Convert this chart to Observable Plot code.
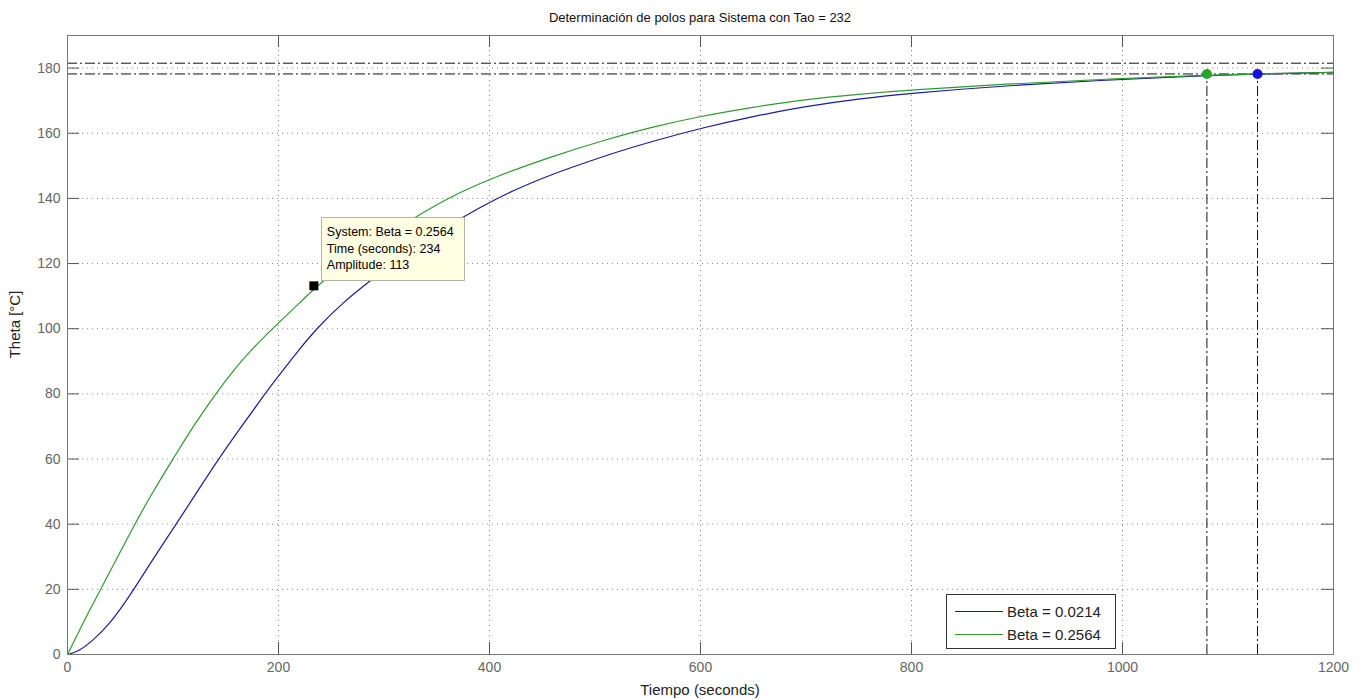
<!DOCTYPE html>
<html><head><meta charset="utf-8">
<script src="https://cdn.jsdelivr.net/npm/d3@7"></script>
<script src="https://cdn.jsdelivr.net/npm/@observablehq/plot@0.6"></script>
<style>body{margin:0;background:#fff;} #chart svg{display:block;}</style>
</head><body><div id="chart"></div>
<script>
const titleText = "Determinación de polos para Sistema con Tao = 232";
const xLabel = "Tiempo (seconds)";
const yLabel = "Theta [°C]";
const xTicks = [0, 200, 400, 600, 800, 1000, 1200];
const yTicks = [0, 20, 40, 60, 80, 100, 120, 140, 160, 180];
const seriesNames = ["Beta = 0.0214", "Beta = 0.2564"];

const blueT = [0, 10, 25, 40, 51, 63, 80, 103, 120, 143, 165, 187, 200, 218, 236, 260, 290, 320, 345, 373, 407, 430, 460, 491, 520, 556, 602, 650, 698, 750, 800, 889, 984, 1050, 1128, 1200];
const blueV = [0, 0.8, 4.5, 9.5, 14.3, 20, 28.8, 40, 48.5, 60, 70, 80, 85.5, 93, 100, 107.8, 115.5, 123, 128.5, 134, 140, 143.5, 147.5, 151, 154.2, 157.7, 161.7, 165.2, 168.2, 170.6, 172.3, 174.6, 176.3, 177.3, 178.2, 178.7];

const greenT = [0, 10, 20, 33, 50, 63, 80, 100, 120, 141, 160, 175, 195, 222, 234, 260, 290, 327, 360, 400, 460, 510, 555, 600, 650, 698, 750, 800, 889, 984, 1080, 1150, 1200];
const greenV = [0, 6.5, 13, 21, 31.5, 39.5, 49.5, 60, 70.5, 80.3, 88.3, 93.8, 100.3, 108.5, 112.3, 119.5, 126.5, 133.7, 140, 146, 153, 158, 162, 165.2, 168, 170.4, 172, 173.3, 175.1, 176.6, 177.9, 178.4, 178.7];

const settleTimes = [1128, 1080];
const settleLevel = 178.2;
const bandLevels = [178.2, 181.5];
const tipT = 234, tipV = 113;
const tipLines = ["System: Beta = 0.2564", "Time (seconds): 234", "Amplitude: 113"];

const colors = ["#1c1c9e", "#2f9a2f"];
const dotColors = ["#1414d8", "#22a822"];
const FONT = "'Liberation Sans', Arial, sans-serif";

const blue = blueT.map((t, i) => ({t, v: blueV[i], s: seriesNames[0]}));
const green = greenT.map((t, i) => ({t, v: greenV[i], s: seriesNames[1]}));
const settle = settleTimes.map((t, i) => ({t, v: settleLevel, s: seriesNames[i]}));

const W = 1363, H = 699;
const mL = 67, mR = 30, mT = 35, mB = 45;
const yDom = [0, 190], xDom = [0, 1200];
const tickPx = 12;
const tyLen = tickPx * (yDom[1] - yDom[0]) / (H - mT - mB);
const txLen = tickPx * (xDom[1] - xDom[0]) / (W - mL - mR);

function tooltipMark(index, scales, values, dim) {
  const x = scales.x(tipT), y = scales.y(tipV);
  const g = d3.create("svg:g");
  g.append("rect").attr("x", Math.round(x + 7) + 0.5).attr("y", Math.round(y - 69) + 0.5).attr("width", 143).attr("height", 63)
    .attr("fill", "#ffffe1").attr("stroke", "#b4b4a4").attr("stroke-width", 1);
  tipLines.forEach((s, i) => {
    g.append("text").attr("x", x + 13).attr("y", y - 50 + i * 16.7).attr("text-anchor", "start")
      .attr("font-family", FONT).attr("font-size", 12.5).attr("fill", "#000").text(s);
  });
  g.append("rect").attr("x", x - 4.5).attr("y", y - 4.5).attr("width", 9).attr("height", 9).attr("fill", "#000");
  return g.node();
}

function legendMark(index, scales, values, dim) {
  const right = dim.width - dim.marginRight - 218;
  const left = right - 169;
  const bottom = dim.height - dim.marginBottom - 6;
  const top = bottom - 54;
  const g = d3.create("svg:g");
  g.append("rect").attr("x", left + 0.5).attr("y", top + 0.5).attr("width", right - left).attr("height", bottom - top)
    .attr("fill", "#fff").attr("stroke", "#333").attr("stroke-width", 1);
  seriesNames.forEach((s, i) => {
    const yy = Math.round(top + 17 + i * 22.5) + 0.5;
    g.append("line").attr("x1", left + 9).attr("x2", left + 57).attr("y1", yy).attr("y2", yy)
      .attr("stroke", colors[i]).attr("stroke-width", 1.2);
    g.append("text").attr("x", left + 61).attr("y", yy).attr("dy", "0.35em").attr("text-anchor", "start")
      .attr("font-family", FONT).attr("font-size", 15).attr("fill", "#222").text(s);
  });
  return g.node();
}

function labelsMark(index, scales, values, dim) {
  const g = d3.create("svg:g").attr("font-family", FONT).attr("text-anchor", "middle");
  const cx = dim.marginLeft + (dim.width - dim.marginLeft - dim.marginRight) / 2;
  const cy = dim.marginTop + (dim.height - dim.marginTop - dim.marginBottom) / 2;
  g.append("text").attr("x", cx).attr("y", dim.marginTop - 18).attr("dy", "0.35em")
    .attr("font-size", 13).attr("fill", "#111").text(titleText);
  g.append("text").attr("x", cx).attr("y", dim.height - dim.marginBottom + 36).attr("dy", "0.35em")
    .attr("font-size", 15).attr("fill", "#222").text(xLabel);
  g.append("text").attr("transform", `translate(${dim.marginLeft - 52},${cy - 20}) rotate(-90)`).attr("dy", "0.35em")
    .attr("font-size", 15).attr("fill", "#222").text(yLabel);
  return g.node();
}

const chart = Plot.plot({
  width: W, height: H,
  marginLeft: mL, marginRight: mR, marginTop: mT, marginBottom: mB,
  style: {fontFamily: FONT, background: "#fff", overflow: "visible"},
  x: {domain: xDom},
  y: {domain: yDom},
  marks: [
    Plot.ruleX(xTicks.filter(d => d > xDom[0] && d < xDom[1]), {x: d => d, stroke: "#8a8a8a", strokeDasharray: "1,4", strokeWidth: 1}),
    Plot.ruleY(yTicks.filter(d => d > yDom[0] && d < yDom[1]), {y: d => d, stroke: "#8a8a8a", strokeDasharray: "1,4", strokeWidth: 1}),
    Plot.ruleX(xTicks, {x: d => d, y1: yDom[0], y2: yDom[0] + tyLen, stroke: "#555"}),
    Plot.ruleX(xTicks, {x: d => d, y1: yDom[1] - tyLen, y2: yDom[1], stroke: "#555"}),
    Plot.ruleY(yTicks, {y: d => d, x1: xDom[0], x2: xDom[0] + txLen, stroke: "#555"}),
    Plot.ruleY(yTicks, {y: d => d, x1: xDom[1] - txLen, x2: xDom[1], stroke: "#555"}),
    Plot.axisX(xTicks, {tickSize: 0, tickPadding: 8, fontSize: 14, fill: "#666", label: null, tickFormat: d => String(d)}),
    Plot.axisY(yTicks, {tickSize: 0, tickPadding: 7, fontSize: 14, fill: "#666", label: null, tickFormat: d => String(d)}),
    Plot.ruleY(bandLevels, {y: d => d, stroke: "#111", strokeDasharray: "10,3,2,3", strokeWidth: 1}),
    Plot.ruleX(settle, {x: "t", y1: yDom[0], y2: "v", stroke: "#111", strokeDasharray: "10,3,2,3", strokeWidth: 1}),
    Plot.line(blue, {x: "t", y: "v", stroke: colors[0], strokeWidth: 1.2, curve: "basis"}),
    Plot.line(green, {x: "t", y: "v", stroke: colors[1], strokeWidth: 1.2, curve: "basis"}),
    Plot.dot(settle, {x: "t", y: "v", r: 5, fill: (d, i) => dotColors[i], stroke: null}),
    Plot.frame({stroke: "#777", strokeWidth: 1}),
    tooltipMark,
    legendMark,
    labelsMark
  ]
});
document.getElementById("chart").appendChild(chart);
</script>
</body></html>
